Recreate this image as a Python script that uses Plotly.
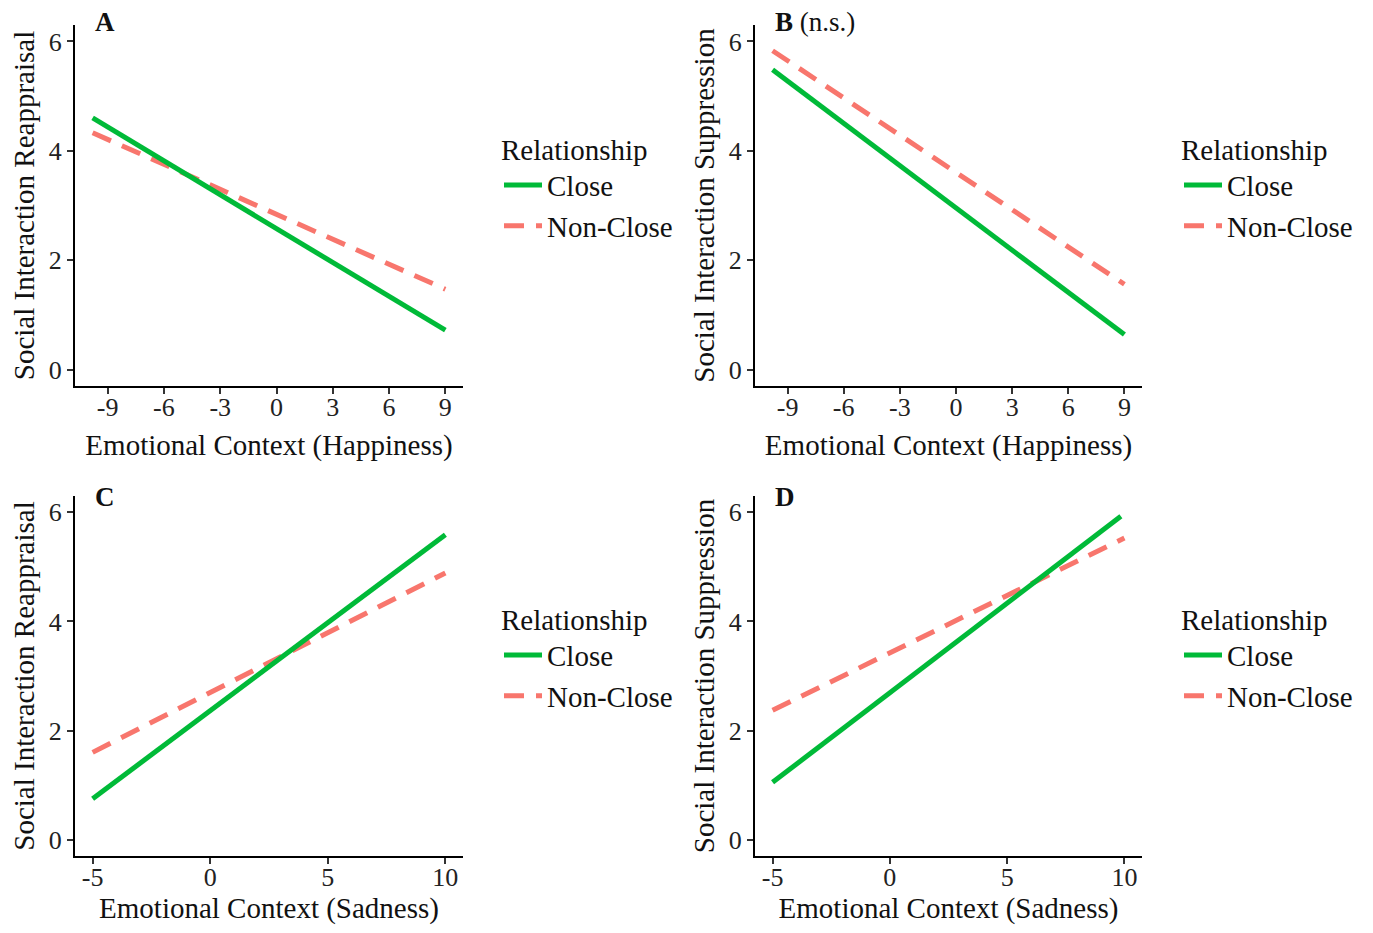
import plotly.graph_objects as go

# ---------------- data ----------------
happy_x = [-9.8, 9.0]
sad_x = [-5.0, 10.0]
sad_x_close_d = [-5.0, 9.85]

A_close = [4.60, 0.72]
A_nonclose = [4.33, 1.47]
B_close = [5.48, 0.64]
B_nonclose = [5.83, 1.56]
C_close = [0.75, 5.59]
C_nonclose = [1.60, 4.89]
D_close = [1.05, 5.93]
D_nonclose = [2.37, 5.53]

happy_ticks = [-9, -6, -3, 0, 3, 6, 9]
sad_ticks = [-5, 0, 5, 10]
y_ticks = [0, 2, 4, 6]

GREEN = "#00BA38"
PINK = "#F8766D"
FONT = "Liberation Serif"
OFF = 8  # default page body margin
W, H = 1373 - 2 * OFF, 933 - 2 * OFF

fig = go.Figure()

panels = [
    ("x", "y", happy_x, happy_x, A_close, A_nonclose, "legend"),
    ("x2", "y2", happy_x, happy_x, B_close, B_nonclose, "legend2"),
    ("x3", "y3", sad_x, sad_x, C_close, C_nonclose, "legend3"),
    ("x4", "y4", sad_x_close_d, sad_x, D_close, D_nonclose, "legend4"),
]
for xa, ya, xc, xn, yc, yn, lg in panels:
    fig.add_trace(go.Scatter(x=xn, y=yn, mode="lines", name="Non-Close",
                             line=dict(color=PINK, width=5, dash="20px,12px"),
                             xaxis=xa, yaxis=ya, legend=lg, legendrank=2,
                             legendgroup="nc"))
    fig.add_trace(go.Scatter(x=xc, y=yc, mode="lines", name="Close",
                             line=dict(color=GREEN, width=5),
                             xaxis=xa, yaxis=ya, legend=lg, legendrank=1,
                             legendgroup="c"))

def px(v):
    return (v - OFF) / W

def py(v):
    return 1 - (v - OFF) / H

left_dom = [px(75), px(463)]
right_dom = [px(755), px(1142)]
top_dom = [py(386), py(25)]
bot_dom = [py(856), py(496)]

axis_common = dict(showline=True, linecolor="black", linewidth=2,
                   ticks="outside", ticklen=6, tickwidth=2, tickcolor="#333",
                   showgrid=False, zeroline=False, automargin=False,
                   tickfont=dict(family=FONT, size=26, color="#222"))

xt_font = dict(family=FONT, size=29, color="#111")

def xaxis(dom, anchor, rng, ticks, title, so):
    d = dict(axis_common)
    d.update(domain=dom, anchor=anchor, range=rng, tickvals=ticks,
             ticktext=[str(t) for t in ticks], ticklabelstandoff=-9,
             title=dict(text=title, font=xt_font, standoff=so))
    return d

def yaxis(dom, anchor, title):
    d = dict(axis_common)
    d.update(domain=dom, anchor=anchor, range=[-0.3, 6.3], tickvals=y_ticks,
             title=dict(text=title, font=xt_font, standoff=6))
    return d

fig.update_layout(
    xaxis=xaxis(left_dom, "y", [-10.74, 9.94], happy_ticks, "Emotional Context (Happiness)", 13),
    yaxis=yaxis(top_dom, "x", "Social Interaction Reappraisal"),
    xaxis2=xaxis(right_dom, "y2", [-10.74, 9.94], happy_ticks, "Emotional Context (Happiness)", 13),
    yaxis2=yaxis(top_dom, "x2", "Social Interaction Suppression"),
    xaxis3=xaxis(left_dom, "y3", [-5.75, 10.75], sad_ticks, "Emotional Context (Sadness)", 20),
    yaxis3=yaxis(bot_dom, "x3", "Social Interaction Reappraisal"),
    xaxis4=xaxis(right_dom, "y4", [-5.75, 10.75], sad_ticks, "Emotional Context (Sadness)", 20),
    yaxis4=yaxis(bot_dom, "x4", "Social Interaction Suppression"),
)

leg_common = dict(font=dict(family=FONT, size=29, color="#111"),
                  title=dict(text="Relationship", font=dict(family=FONT, size=29, color="#111")),
                  bgcolor="rgba(0,0,0,0)", xanchor="left", yanchor="top",
                  tracegroupgap=11, itemwidth=38, traceorder="normal")
fig.update_layout(
    legend=dict(leg_common, x=px(499), y=py(122)),
    legend2=dict(leg_common, x=px(1179), y=py(122)),
    legend3=dict(leg_common, x=px(499), y=py(592)),
    legend4=dict(leg_common, x=px(1179), y=py(592)),
)

labels = [
    ("<b>A</b>", 93, 22),
    ("<b>B</b> (n.s.)", 773, 22),
    ("<b>C</b>", 93, 497),
    ("<b>D</b>", 773, 497),
]
for txt, lx, ly in labels:
    fig.add_annotation(text=txt, x=px(lx), y=py(ly), xref="paper", yref="paper",
                       xanchor="left", yanchor="middle", showarrow=False,
                       font=dict(family=FONT, size=27, color="#111"))

fig.update_layout(width=W, height=H, margin=dict(l=0, r=0, t=0, b=0),
                  paper_bgcolor="white", plot_bgcolor="white", showlegend=True)

fig.write_html("out.html")
